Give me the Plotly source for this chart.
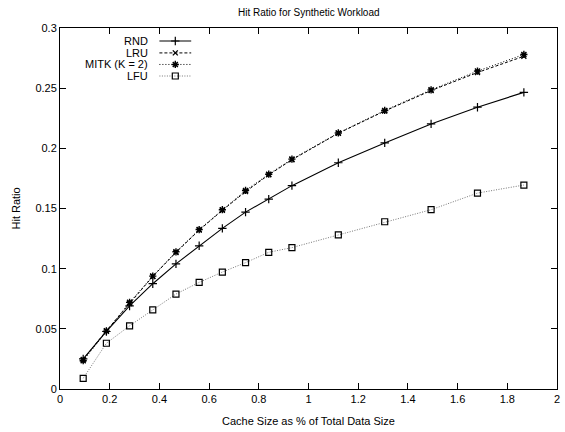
import plotly.graph_objects as go

cache_size = [0.0933, 0.1867, 0.28, 0.3733, 0.4667, 0.56, 0.6533, 0.7467, 0.84, 0.9333,
              1.12, 1.3067, 1.4933, 1.68, 1.8667]
rnd = [0.0250, 0.0478, 0.0690, 0.0875, 0.1040, 0.1190, 0.1335, 0.1470, 0.1578, 0.1690,
       0.1880, 0.2045, 0.2203, 0.2342, 0.2465]
lru = [0.0245, 0.0485, 0.0710, 0.0935, 0.1135, 0.1320, 0.1485, 0.1640, 0.1780, 0.1905,
       0.2125, 0.2310, 0.2480, 0.2630, 0.2765]
mitk = [0.0235, 0.0480, 0.0720, 0.0938, 0.1140, 0.1325, 0.1490, 0.1650, 0.1785, 0.1910,
        0.2128, 0.2315, 0.2486, 0.2642, 0.2780]
lfu = [0.0089, 0.0380, 0.0525, 0.0658, 0.0789, 0.0886, 0.0972, 0.1050, 0.1136, 0.1175,
       0.1280, 0.1390, 0.1490, 0.1628, 0.1695]

x_ticks = [0, 0.2, 0.4, 0.6, 0.8, 1, 1.2, 1.4, 1.6, 1.8, 2]
x_tick_labels = ["0", "0.2", "0.4", "0.6", "0.8", "1", "1.2", "1.4", "1.6", "1.8", "2"]
y_ticks = [0, 0.05, 0.1, 0.15, 0.2, 0.25, 0.3]
y_tick_labels = ["0", "0.05", "0.1", "0.15", "0.2", "0.25", "0.3"]

series = [
    ("RND", rnd, dict(color="black", width=1.1, dash="solid"),
     dict(symbol="cross-thin-open", size=6, color="black", line=dict(width=1.2, color="black"))),
    ("LRU", lru, dict(color="black", width=1.0, dash="3px,2px"),
     dict(symbol="x-thin-open", size=5, color="black", line=dict(width=1.3, color="black"))),
    ("MITK (K = 2)", mitk, dict(color="black", width=1.0, dash="1px,2px"),
     dict(symbol="asterisk-open", size=6, color="black", line=dict(width=1.4, color="black"))),
    ("LFU", lfu, dict(color="#777777", width=1.0, dash="1px,1.5px"),
     dict(symbol="square-open", size=6, color="black", line=dict(width=1.2, color="black"))),
]

font = "Liberation Sans, Arial, sans-serif"
fig = go.Figure()
for name, ys, ln, mk in series:
    fig.add_trace(go.Scatter(x=cache_size, y=ys, mode="lines+markers", name=name,
                             line=ln, marker=mk, showlegend=False))

# custom gnuplot-style key (text right-aligned, sample to the right)
key_rows = [0.964, 0.931, 0.899, 0.867]
for (name, ys, ln, mk), ky in zip(series, key_rows):
    fig.add_trace(go.Scatter(x=[0.2, 0.264], y=[ky, ky], mode="lines", line=ln,
                             xaxis="x2", yaxis="y2", showlegend=False, hoverinfo="skip"))
    fig.add_trace(go.Scatter(x=[0.232], y=[ky], mode="markers", marker=mk,
                             xaxis="x2", yaxis="y2", showlegend=False, hoverinfo="skip"))
    fig.add_annotation(x=0.182, y=ky, xref="paper", yref="paper", text=name,
                       showarrow=False, xanchor="right", yanchor="middle",
                       font=dict(family=font, size=11, color="black"))

fig.add_annotation(x=0.5, y=1.0, xref="paper", yref="paper", yshift=16,
                   text="Hit Ratio for Synthetic Workload", showarrow=False,
                   xanchor="center", yanchor="middle",
                   font=dict(family=font, size=10, color="black"))
fig.add_annotation(x=0.5, y=0, xref="paper", yref="paper", yshift=-32,
                   text="Cache Size as % of Total Data Size", showarrow=False,
                   xanchor="center", yanchor="middle",
                   font=dict(family=font, size=11, color="black"))
fig.add_annotation(x=0, y=0.5, xref="paper", yref="paper", xshift=-45,
                   text="Hit Ratio", showarrow=False, textangle=-90,
                   xanchor="center", yanchor="middle",
                   font=dict(family=font, size=11, color="black"))

axis_common = dict(showgrid=False, zeroline=False, showline=True, linecolor="black",
                   linewidth=1, mirror="ticks", ticks="inside", ticklen=6,
                   tickcolor="black", tickwidth=1,
                   tickfont=dict(family=font, size=11, color="black"))

fig.update_layout(
    width=565, height=432,
    margin=dict(l=60, r=5, t=28, b=43),
    paper_bgcolor="white", plot_bgcolor="white",
    xaxis=dict(range=[0, 2], tickvals=x_ticks, ticktext=x_tick_labels, **axis_common),
    yaxis=dict(range=[0, 0.3], tickvals=y_ticks, ticktext=y_tick_labels, **axis_common),
    xaxis2=dict(range=[0, 1], overlaying="x", visible=False, anchor="y2"),
    yaxis2=dict(range=[0, 1], overlaying="y", visible=False, anchor="x2"),
    showlegend=False,
)

fig.write_html("out.html")
